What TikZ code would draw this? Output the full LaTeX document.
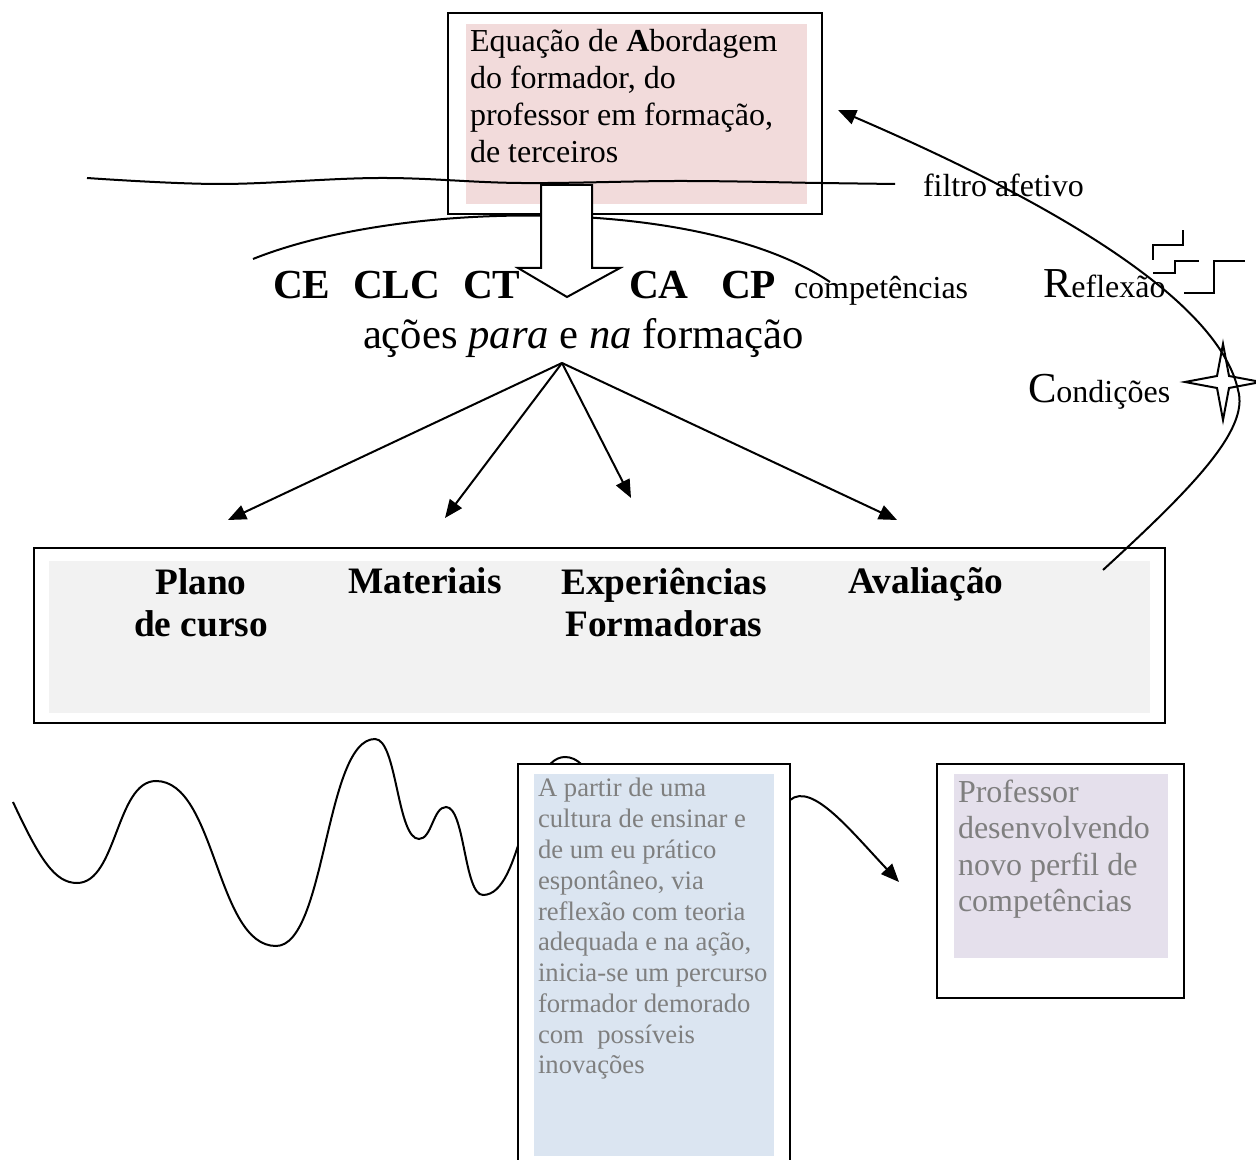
\documentclass[tikz,border=0pt]{standalone}
\usepackage{fontspec}
\setmainfont{Liberation Serif}
\usetikzlibrary{arrows.meta}
\definecolor{eqpink}{HTML}{F2DBDB}
\definecolor{cardgray}{HTML}{F2F2F2}
\definecolor{pathblue}{HTML}{DBE5F1}
\definecolor{profviolet}{HTML}{E5E0EC}
\definecolor{softtext}{HTML}{7F7F7F}

\begin{document}
\begin{tikzpicture}[x=0.375pt,y=-0.375pt,line width=0.75pt,
    >={Triangle[length=6.8pt,width=5.6pt]},
    frame/.style={draw,line width=0.9pt,fill=white,inner sep=0,anchor=north west},
    shade/.style={inner sep=0,anchor=north west},
    txt/.style={inner sep=0,anchor=base west,font=\fontsize{12}{13.9}\selectfont},
    comp/.style={inner sep=0,anchor=base west,font=\fontsize{15.5}{18}\selectfont\bfseries},
    card/.style={inner sep=0,anchor=base,align=center,font=\fontsize{14}{16.1}\selectfont\bfseries}]
\useasboundingbox (0,0) rectangle (1256,1160);

\node[frame,minimum width=140.25pt,minimum height=75.4pt] (eqbox) at (447,12) {};
\node[shade,fill=eqpink,minimum width=127.9pt,minimum height=67.5pt] (eqfill) at (465,23) {};
\node[txt,align=left] (eq) at (469,163) {Equação de \textbf{A}bordagem\\do formador, do\\professor em formação,\\de terceiros};

\draw plot[smooth,tension=0.6] coordinates {(87,178) (220,184) (380,178) (520,183) (680,181) (820,183) (895,184)};
\node[txt] (filtro) at (922,197) {filtro afetivo};

\draw (253,259) .. controls (400,200) and (700,195) .. (830,282);
\draw[fill=white] (541,185) -- (592,185) -- (592,268) -- (620,268) -- (567,297) -- (518,268) -- (541,268) -- cycle;

\node[comp] (ce) at (272,299) {CE};
\node[comp] (clc) at (352,299) {CLC};
\node[comp] (ct) at (462,299) {CT};
\node[comp] (ca) at (628,299) {CA};
\node[comp] (cp) at (720,299) {CP};
\node[txt] (compet) at (793,299) {competências};
\node[txt,font=\fontsize{16}{19}\selectfont] (acoes) at (362,349) {ações \textit{para} e \textit{na} formação};

\coordinate (fork) at (562,363);
\coordinate (toplano) at (228,520);
\coordinate (tomat) at (445,518);
\coordinate (toexp) at (631,498);
\coordinate (toaval) at (897,520);
\draw[->] (fork) -- (toplano);
\draw[->] (fork) -- (tomat);
\draw[->] (fork) -- (toexp);
\draw[->] (fork) -- (toaval);

\node[frame,minimum width=424.1pt,minimum height=65.6pt] (acts) at (33,547) {};
\node[shade,fill=cardgray,minimum width=412.9pt,minimum height=57pt] (actsfill) at (48,560) {};
\node[card] (plano) at (201,637) {Plano\\de curso};
\node[card] (mat) at (425,594) {Materiais};
\node[card] (exp) at (664,637) {Experiências\\Formadoras};
\node[card] (aval) at (926,594) {Avaliação};

\node[txt] (refl) at (1042,298) {{\fontsize{16}{19}\selectfont R}eflexão};
\node[txt] (cond) at (1027,403) {{\fontsize{16}{19}\selectfont C}ondições};
\draw (1153,260) -- (1153,245) -- (1183,245) -- (1183,230);
\draw (1153,273) -- (1175,273) -- (1175,261) -- (1199,261);
\draw (1184,293) -- (1214,293) -- (1214,261) -- (1245,261);
\draw (1223,344) -- (1229,376) -- (1261,382) -- (1229,388) -- (1223,420) -- (1217,388) -- (1185,382) -- (1217,376) -- cycle;

\coordinate (retstart) at (1103,570);
\coordinate (rettip) at (838,110);
\draw[->] (retstart) .. controls (1190,490) and (1250,430) .. (1238,390) .. controls (1225,330) and (1140,240) .. (rettip);

\draw (13,802) .. controls (40,860) and (55,883) .. (77,883) .. controls (117,883) and (116,781) .. (156,781)
  .. controls (216,781) and (216,946) .. (276,946) .. controls (326,946) and (325,739) .. (375,739)
  .. controls (397,739) and (397,839) .. (419,839) .. controls (432,839) and (433,807) .. (446,807)
  .. controls (465,807) and (464,895) .. (483,895) .. controls (524,895) and (524,757) .. (565,757)
  .. controls (590,757) and (600,800) .. (620,830);

\node[frame,minimum width=102pt,minimum height=156.4pt] (path) at (517,763) {};
\node[shade,fill=pathblue,minimum width=90pt,minimum height=143.25pt] (pathfill) at (533,773) {};
\node[txt,align=left,text=softtext,font=\fontsize{10}{11.55}\selectfont] (pathtxt) at (537,1074) {A partir de uma\\cultura de ensinar e\\de um eu prático\\espontâneo, via\\reflexão com teoria\\adequada e na ação,\\inicia-se um percurso\\formador demorado\\com\ \ possíveis\\inovações};

\node[frame,minimum width=92.6pt,minimum height=87.75pt] (prof) at (936,763) {};
\node[shade,fill=profviolet,minimum width=80.25pt,minimum height=69pt] (proffill) at (953,773) {};
\node[txt,align=left,text=softtext,font=\fontsize{12}{13.7}\selectfont] (proftxt) at (957,912) {Professor\\desenvolvendo\\novo perfil de\\competências};

\coordinate (pathout) at (790,800);
\coordinate (profin) at (899,882);
\draw[->] (pathout) .. controls (812,782) and (850,830) .. (profin);

\end{tikzpicture}
\end{document}
